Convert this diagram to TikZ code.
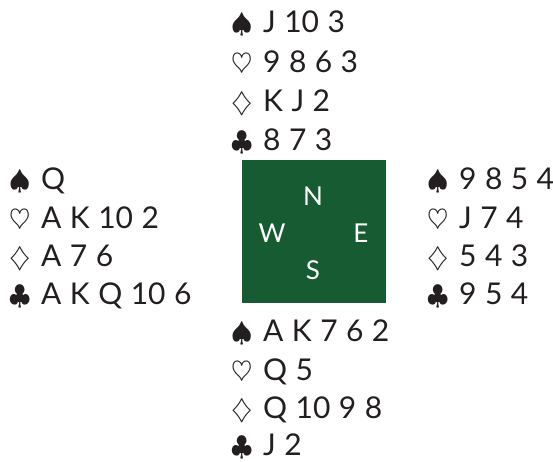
\documentclass[tikz,border=0pt]{standalone}
\usepackage{graphicx}
\usepackage{fontspec}
\setmainfont{Lato}[WordSpace=1.1]
\definecolor{ink}{RGB}{35,31,32}
\definecolor{felt}{RGB}{22,91,50}
\newcommand{\suitrow}[2]{\makebox[32pt][l]{\scalebox{1.1}{$#1$}}#2}
\begin{document}
\begin{tikzpicture}[x=1pt,y=-1pt,
  hand/.style={anchor=base west, inner sep=0pt, text=ink, font=\fontsize{30}{33}\selectfont},
  compass/.style={inner sep=0pt, text=white, font=\fontsize{26}{29}\selectfont},
  tablebox/.style={fill=felt, draw=none, inner sep=0pt, minimum width=144pt, minimum height=143pt, anchor=north west}]
\useasboundingbox (0,0) rectangle (553,461);
% table
\node[tablebox] (table) at (242,160) {};
\node[compass] (cN) at (313,196) {N};
\node[compass] (cW) at (272,233) {W};
\node[compass] (cE) at (361,233) {E};
\node[compass] (cS) at (313,270) {S};
% North
\node[hand] (n1) at (231,32) {\suitrow{\spadesuit}{J 10 3}};
\node[hand] (n2) at (231,72) {\suitrow{\heartsuit}{9 8 6 3}};
\node[hand] (n3) at (231,111) {\suitrow{\diamondsuit}{K J 2}};
\node[hand] (n4) at (231,150) {\suitrow{\clubsuit}{8 7 3}};
% West
\node[hand] (w1) at (9,189) {\suitrow{\spadesuit}{Q}};
\node[hand] (w2) at (9,228) {\suitrow{\heartsuit}{A K 10 2}};
\node[hand] (w3) at (9,266) {\suitrow{\diamondsuit}{A 7 6}};
\node[hand] (w4) at (9,304) {\suitrow{\clubsuit}{A K Q 10 6}};
% East
\node[hand] (e1) at (427,189) {\suitrow{\spadesuit}{9 8 5 4}};
\node[hand] (e2) at (427,228) {\suitrow{\heartsuit}{J 7 4}};
\node[hand] (e3) at (427,266) {\suitrow{\diamondsuit}{5 4 3}};
\node[hand] (e4) at (427,304) {\suitrow{\clubsuit}{9 5 4}};
% South
\node[hand] (s1) at (231,341) {\suitrow{\spadesuit}{A K 7 6 2}};
\node[hand] (s2) at (231,380) {\suitrow{\heartsuit}{Q 5}};
\node[hand] (s3) at (231,418) {\suitrow{\diamondsuit}{Q 10 9 8}};
\node[hand] (s4) at (231,455) {\suitrow{\clubsuit}{J 2}};
\end{tikzpicture}
\end{document}
